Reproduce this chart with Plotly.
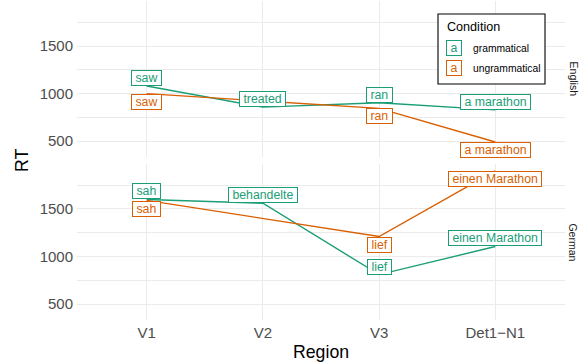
import plotly.graph_objects as go
from plotly.subplots import make_subplots

# ---- data -------------------------------------------------------------
regions = ["V1", "V2", "V3", "Det1\u2212N1"]
ungram_regions = ["V1", "V3", "Det1\u2212N1"]

english_gram_rt = [1080, 858, 905, 830]
english_gram_words = ["saw", "treated", "ran", "a marathon"]
english_ungram_rt = [1000, 845, 492]
english_ungram_words = ["saw", "ran", "a marathon"]

german_gram_rt = [1600, 1560, 810, 1105]
german_gram_words = ["sah", "behandelte", "lief", "einen Marathon"]
german_ungram_rt = [1590, 1210, 1900]
german_ungram_words = ["sah", "lief", "einen Marathon"]

languages = ["English", "German"]
conditions = ["grammatical", "ungrammatical"]
y_ticks = [500, 1000, 1500]
y_minor = [750, 1250, 1750]

# ---- styling ----------------------------------------------------------
GREEN = "#1B9E77"
ORANGE = "#D95F02"
FONT = "Liberation Sans, Arial, Helvetica, sans-serif"
GRID = "#EBEBEB"
NUDGE = 85          # label offset in RT units (up for grammatical, down for ungrammatical)
NB = "\u00a0"

W, H = 582, 363
L, R, T, B = 77, 17, 1, 43
plot_w = W - L - R
plot_h = H - T - B
gap = 6.7


def px_x(px):
    return (px - L) / plot_w


def px_y(py):
    return (H - B - py) / plot_h


panels = [
    dict(gram=english_gram_rt, gw=english_gram_words,
         ungram=english_ungram_rt, uw=english_ungram_words),
    dict(gram=german_gram_rt, gw=german_gram_words,
         ungram=german_ungram_rt, uw=german_ungram_words),
]

# shared y range with 5% expansion, trained on points and nudged labels
all_y = []
for p in panels:
    all_y += p["gram"] + [v + NUDGE for v in p["gram"]]
    all_y += p["ungram"] + [v - NUDGE for v in p["ungram"]]
lo, hi = min(all_y), max(all_y)
pad = 0.05 * (hi - lo)
y_range = [lo - pad, hi + pad]

fig = make_subplots(rows=2, cols=1, shared_xaxes=True,
                    vertical_spacing=gap / plot_h)

annotations = []
for i, p in enumerate(panels, start=1):
    xref = "x" if i == 1 else f"x{i}"
    yref = "y" if i == 1 else f"y{i}"
    fig.add_trace(go.Scatter(x=regions, y=p["gram"], mode="lines",
                             line=dict(color=GREEN, width=1.4),
                             showlegend=False, hoverinfo="skip"), row=i, col=1)
    fig.add_trace(go.Scatter(x=ungram_regions, y=p["ungram"], mode="lines",
                             line=dict(color=ORANGE, width=1.4),
                             showlegend=False, hoverinfo="skip"), row=i, col=1)
    for xs, ys, words, col, sgn in [
        (regions, p["gram"], p["gw"], GREEN, 1),
        (ungram_regions, p["ungram"], p["uw"], ORANGE, -1),
    ]:
        for x, y, w in zip(xs, ys, words):
            annotations.append(dict(
                x=x, y=y + sgn * NUDGE, xref=xref, yref=yref,
                text=NB + w + NB, showarrow=False,
                font=dict(family=FONT, size=12.3, color=col),
                bgcolor="white", bordercolor=col, borderwidth=1,
                borderpad=0, height=14, xanchor="center", yanchor="middle"))

# facet strip labels
for i, lang in enumerate(languages, start=1):
    dom = fig.layout["yaxis" if i == 1 else f"yaxis{i}"].domain
    annotations.append(dict(
        x=px_x(573.5), y=(dom[0] + dom[1]) / 2, xref="paper", yref="paper",
        text=lang, textangle=90, showarrow=False,
        font=dict(family=FONT, size=10.5, color="#1A1A1A"),
        xanchor="center", yanchor="middle"))

# axis titles
annotations.append(dict(x=px_x(21.5), y=0.5, xref="paper", yref="paper",
                        text="RT", textangle=-90, showarrow=False,
                        font=dict(family=FONT, size=17.7, color="black"),
                        xanchor="center", yanchor="middle"))
annotations.append(dict(x=0.5, y=px_y(352), xref="paper", yref="paper",
                        text="Region", showarrow=False,
                        font=dict(family=FONT, size=17.7, color="black"),
                        xanchor="center", yanchor="middle"))

# legend drawn by hand: boxed "a" keys like geom_label
shapes = [dict(type="rect", xref="paper", yref="paper",
               x0=px_x(438), x1=px_x(545), y0=px_y(84), y1=px_y(14),
               line=dict(color="black", width=1.1), fillcolor="white",
               layer="above")]
annotations.append(dict(x=px_x(445), y=px_y(26.7), xref="paper", yref="paper",
                        text="Condition", showarrow=False,
                        font=dict(family=FONT, size=12.6, color="black"),
                        xanchor="left", yanchor="middle"))
for cond, col, ky in zip(conditions, [GREEN, ORANGE], [47.5, 68]):
    annotations.append(dict(x=px_x(454.2), y=px_y(ky), xref="paper", yref="paper",
                            text=NB + "a" + NB, showarrow=False,
                            font=dict(family=FONT, size=12.3, color=col),
                            bgcolor="white", bordercolor=col, borderwidth=1,
                            borderpad=0, height=14,
                            xanchor="center", yanchor="middle"))
    annotations.append(dict(x=px_x(470.7), y=px_y(ky + 0.8), xref="paper",
                            yref="paper", text=cond, showarrow=False,
                            font=dict(family=FONT, size=10.3, color="black"),
                            xanchor="left", yanchor="middle"))

axis_common = dict(showline=False, zeroline=False, ticks="",
                   gridcolor=GRID, gridwidth=1.1)
for i in (1, 2):
    fig.update_xaxes(type="category", categoryorder="array",
                     categoryarray=regions, range=[-0.6, 3.6],
                     showgrid=True, ticklabelstandoff=2,
                     tickfont=dict(family=FONT, size=15, color="#4D4D4D"),
                     row=i, col=1, **axis_common)
    fig.update_yaxes(range=y_range, tickvals=y_ticks,
                     ticktext=[str(v) for v in y_ticks],
                     minor=dict(tickvals=y_minor, showgrid=True,
                                gridcolor=GRID, gridwidth=0.6),
                     showgrid=True, ticklabelstandoff=3,
                     tickfont=dict(family=FONT, size=15, color="#4D4D4D"),
                     row=i, col=1, **axis_common)
fig.update_xaxes(showticklabels=False, row=1, col=1)

fig.update_layout(width=W, height=H,
                  margin=dict(l=L, r=R, t=T, b=B, pad=0),
                  plot_bgcolor="white", paper_bgcolor="white",
                  showlegend=False, annotations=annotations, shapes=shapes,
                  font=dict(family=FONT))

fig.write_html("out.html")
